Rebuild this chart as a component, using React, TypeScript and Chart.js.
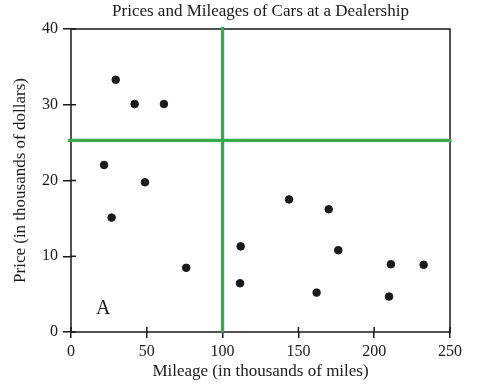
import React, { useEffect, useRef } from "react";
import { Chart, registerables } from "chart.js";

Chart.register(...registerables);

const chartTitle = "Prices and Mileages of Cars at a Dealership";
const xAxisTitle = "Mileage (in thousands of miles)";
const yAxisTitle = "Price (in thousands of dollars)";
const mileage = [29.5, 42, 61.3, 21.8, 48.8, 26.8, 76, 111.9, 111.5, 143.8, 170, 176.3, 211, 232.6, 162, 209.8];
const price = [33.3, 30.1, 30.1, 22.05, 19.76, 15.1, 8.47, 11.3, 6.44, 17.5, 16.2, 10.8, 8.95, 8.87, 5.2, 4.68];
const xDivider = 100;
const yDivider = 25.3;
const xTicks = [0, 50, 100, 150, 200, 250];
const yTicks = [0, 10, 20, 30, 40];
const regionLabel = { text: "A", x: 21.3, y: 3.1 };

const FONT = "'Liberation Serif', 'Times New Roman', serif";
const GREEN = "rgb(58,170,76)";
const INK = "#1a1a1a";

const framePlugin = {
  id: "frame",
  beforeDatasetsDraw(chart: any) {
    const { ctx, chartArea: a, scales } = chart;
    ctx.save();
    ctx.strokeStyle = INK;
    ctx.lineWidth = 1.5;
    ctx.strokeRect(a.left, a.top, a.right - a.left, a.bottom - a.top);
    ctx.beginPath();
    xTicks.forEach((v) => {
      const px = scales.x.getPixelForValue(v);
      ctx.moveTo(px, a.bottom);
      ctx.lineTo(px, a.bottom - 5);
    });
    yTicks.forEach((v) => {
      const py = scales.y.getPixelForValue(v);
      ctx.moveTo(a.left, py);
      ctx.lineTo(a.left + 5, py);
    });
    ctx.stroke();
    ctx.restore();
  },
  afterDatasetsDraw(chart: any) {
    const { ctx, scales } = chart;
    ctx.save();
    ctx.fillStyle = INK;
    ctx.font = `20px ${FONT}`;
    ctx.textAlign = "center";
    ctx.textBaseline = "middle";
    ctx.fillText(regionLabel.text, scales.x.getPixelForValue(regionLabel.x), scales.y.getPixelForValue(regionLabel.y));
    ctx.restore();
  },
};

export default function App() {
  const ref = useRef<HTMLCanvasElement>(null);
  useEffect(() => {
    document.body.style.margin = "0";
    const points = mileage.map((m, i) => ({ x: m, y: price[i] }));
    const chart = new Chart(ref.current as HTMLCanvasElement, {
      type: "scatter",
      data: {
        datasets: [
          {
            type: "line",
            data: [{ x: xDivider, y: -0.1 }, { x: xDivider, y: 40.3 }],
            borderColor: GREEN,
            borderWidth: 3.2,
            pointRadius: 0,
            showLine: true,
            clip: false as any,
          } as any,
          {
            type: "line",
            data: [{ x: -2, y: yDivider }, { x: 251, y: yDivider }],
            borderColor: GREEN,
            borderWidth: 3.2,
            pointRadius: 0,
            showLine: true,
            clip: false as any,
          } as any,
          {
            data: points,
            backgroundColor: INK,
            borderColor: INK,
            pointRadius: 3.8,
            pointHoverRadius: 3.8,
          },
        ],
      },
      options: {
        animation: false,
        responsive: false,
        events: [],
        layout: { padding: { left: 0, right: 33, top: 0, bottom: 0 } },
        plugins: {
          legend: { display: false },
          tooltip: { enabled: false },
          title: {
            display: true,
            fullSize: false,
            text: chartTitle,
            color: INK,
            font: { family: FONT, size: 17, weight: "normal" as any, lineHeight: 1.2 },
            padding: { top: 1, bottom: 7.6 },
          },
        },
        scales: {
          x: {
            type: "linear",
            min: 0,
            max: 250,
            afterBuildTicks: (s: any) => {
              s.ticks = xTicks.map((v) => ({ value: v }));
            },
            afterFit: (s: any) => {
              s.height = 55;
            },
            border: { display: false },
            grid: { display: true, drawOnChartArea: false, drawTicks: true, tickLength: 6, color: INK, lineWidth: 1.5 },
            ticks: { color: INK, padding: 4, font: { family: FONT, size: 16 }, maxRotation: 0 },
            title: {
              display: true,
              text: xAxisTitle,
              color: INK,
              font: { family: FONT, size: 17, lineHeight: 1.2 },
              padding: { top: 0, bottom: 4.8 },
            },
          },
          y: {
            type: "linear",
            min: 0,
            max: 40,
            afterBuildTicks: (s: any) => {
              s.ticks = yTicks.map((v) => ({ value: v }));
            },
            afterFit: (s: any) => {
              s.width = 71;
            },
            border: { display: false },
            grid: { display: true, drawOnChartArea: false, drawTicks: true, tickLength: 8, color: INK, lineWidth: 1.5 },
            ticks: { color: INK, padding: 5, font: { family: FONT, size: 16 } },
            title: {
              display: true,
              text: yAxisTitle,
              color: INK,
              font: { family: FONT, size: 17, lineHeight: 1.2 },
              padding: { top: 10, bottom: 0 },
            },
          },
        },
      },
      plugins: [framePlugin],
    });
    return () => chart.destroy();
  }, []);
  return (
    <div style={{ width: 483, height: 387, background: "#fff" }}>
      <canvas ref={ref} width={483} height={387} style={{ width: 483, height: 387, display: "block" }} />
    </div>
  );
}
